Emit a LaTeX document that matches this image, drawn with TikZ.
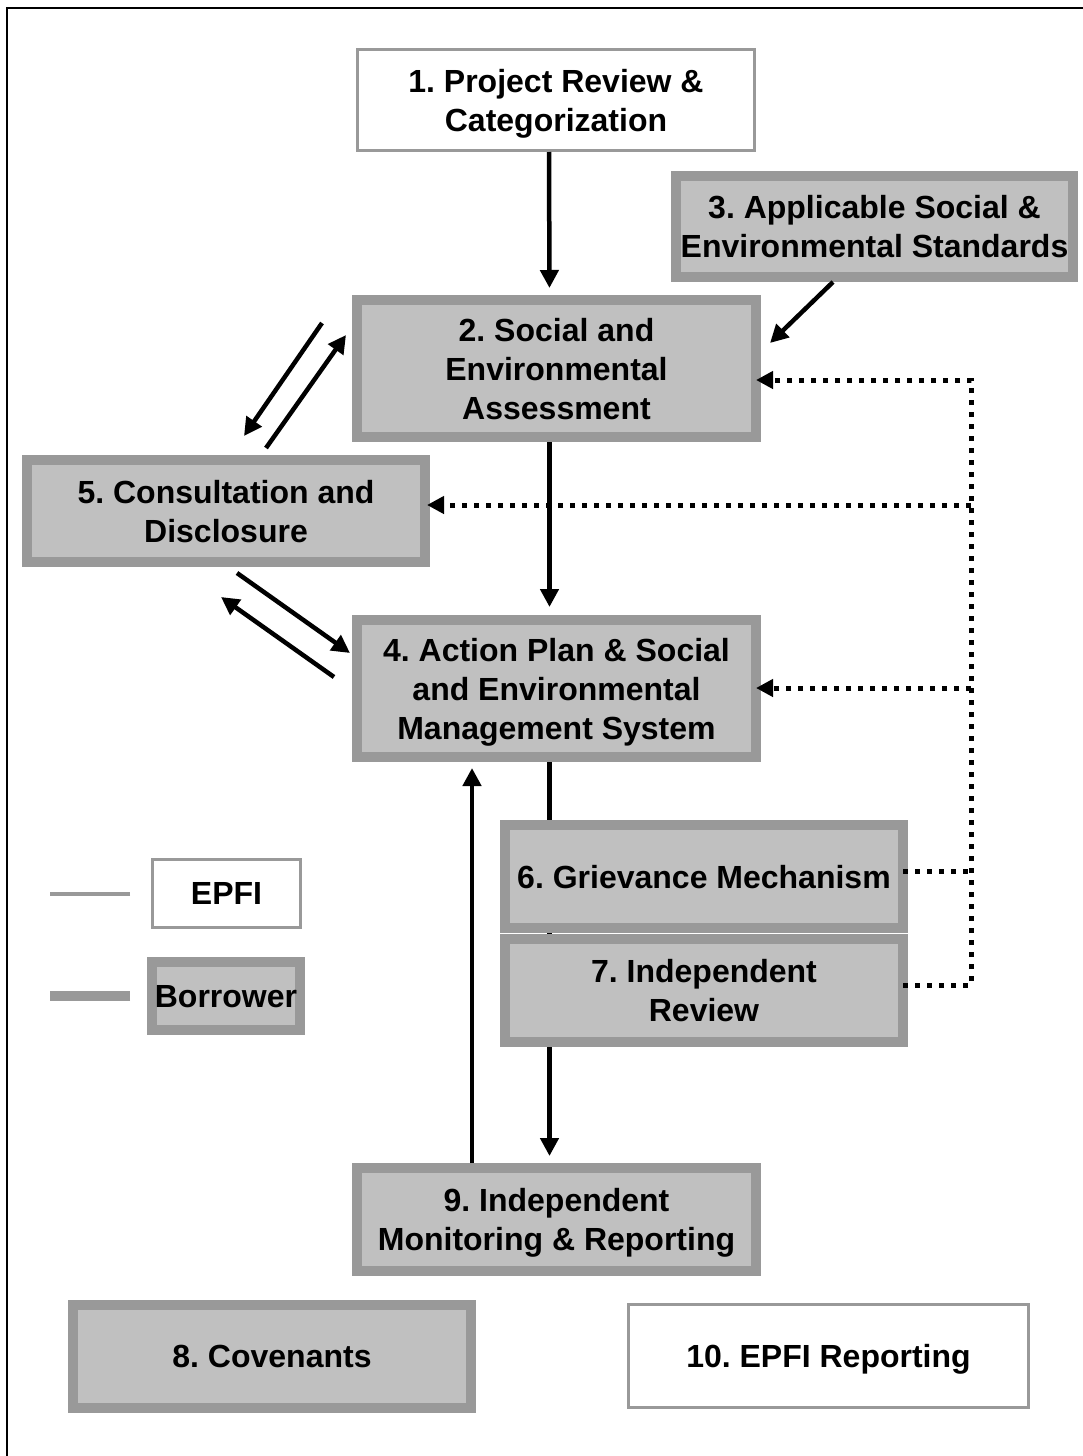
\documentclass[tikz,border=0pt]{standalone}
\usepackage{fontspec}
\setmainfont{Liberation Sans}
\frenchspacing
\usetikzlibrary{arrows.meta, backgrounds}
\definecolor{boxline}{HTML}{999999}
\definecolor{boxfill}{HTML}{C0C0C0}
\tikzset{
    base box/.style={align=center, inner sep=0pt, text depth=-3pt, font=\bfseries\fontsize{32}{39}\selectfont}, % common text look
    borrower box/.style={base box, draw=boxline, fill=boxfill, line width=10pt}, % borrower steps
    epfi box/.style={base box, draw=boxline, fill=white, line width=3pt}, % EPFI steps
    flow arrow/.style={line width=4.5pt, -{Triangle[width=18pt, length=18pt]}},
    dotted link/.style={line width=5pt, dash pattern=on 5pt off 7pt},
    dotted arrow/.style={dotted link, -{Triangle[width=17pt, length=17pt]}}
}
\begin{document}
\begin{tikzpicture}[x=1pt, y=-1pt]

    \useasboundingbox (0,0) rectangle (1083,1456);

    % process steps
    \node[epfi box, minimum width=397pt, minimum height=101pt] (review) at (556,100) {1. Project Review \&\\Categorization};
    \node[borrower box, minimum width=399pt, minimum height=137pt] (assess) at (556.5,368.5) {2. Social and\\Environmental\\Assessment};
    \node[borrower box, minimum width=397pt, minimum height=101pt] (standards) at (874.5,226.5) {3. Applicable Social \&\\Environmental Standards};
    \node[borrower box, minimum width=398pt, minimum height=102pt] (consult) at (226,511) {5. Consultation and\\Disclosure};
    \node[borrower box, minimum width=399pt, minimum height=137pt] (plan) at (556.5,688.5) {4. Action Plan \& Social\\and Environmental\\Management System};
    \node[borrower box, minimum width=398pt, minimum height=103pt] (grievance) at (704,876.5) {6. Grievance Mechanism};
    \node[borrower box, minimum width=398pt, minimum height=103pt] (indrev) at (704,990.5) {7. Independent\\Review};
    \node[borrower box, minimum width=399pt, minimum height=103pt] (monitor) at (556.5,1219.5) {9. Independent\\Monitoring \& Reporting};
    \node[borrower box, minimum width=398pt, minimum height=103pt] (covenants) at (272,1356.5) {8. Covenants};
    \node[epfi box, minimum width=400pt, minimum height=103pt] (reporting) at (828.5,1356) {10. EPFI Reporting};

    % legend
    \node[epfi box, minimum width=148pt, minimum height=68pt] (legEPFI) at (226.5,893.5) {EPFI};
    \node[borrower box, minimum width=148pt, minimum height=68pt] (legBorrower) at (226,996) {Borrower};
    \draw[boxline, line width=4pt] ([xshift=-21pt]legEPFI.west) -- ++(-80,0);
    \draw[boxline, line width=10pt] ([xshift=-17pt]legBorrower.west) -- ++(-80,0);

    % frame and the line running behind steps 6 and 7
    \begin{scope}[on background layer]
        \draw[line width=2pt] (7,1456) -- (7,8) -- (1083,8);
        \draw[flow arrow, shorten >=7pt] ([xshift=-7pt]plan.south) -- ([xshift=-7pt]monitor.north);
    \end{scope}

    % main flow
    \draw[flow arrow, shorten >=7pt] ([xshift=-7pt]review.south) -- ([xshift=-7pt]assess.north);
    \draw[flow arrow, shorten >=8pt] ([xshift=-7pt]assess.south) -- ([xshift=-7pt]plan.north);
    \draw[flow arrow, shorten >=6pt] ([xshift=-84.5pt]monitor.north) -- ([xshift=-84.5pt]plan.south);
    \coordinate (stdTip) at (770,343);
    \draw[flow arrow] ([xshift=-41.5pt]standards.south) -- (stdTip);

    % consultation loops
    \coordinate (a1) at (322,323); \coordinate (a2) at (244,436);
    \coordinate (b1) at (266,448); \coordinate (b2) at (346,335);
    \coordinate (c1) at (237,573); \coordinate (c2) at (350,653);
    \coordinate (d1) at (334,677); \coordinate (d2) at (221,597);
    \foreach \s/\e in {a1/a2, b1/b2, c1/c2, d1/d2} {\draw[flow arrow] (\s) -- (\e);}

    % feedback from grievance and review
    \coordinate (busA) at (971,380);
    \coordinate (busB) at (971,505);
    \coordinate (busC) at (971,688);
    \coordinate (busG) at (971,871);
    \coordinate (busR) at (971,985);
    \draw[dotted link] ([xshift=-5pt]grievance.east |- busG) -- (busG);
    \draw[dotted arrow, shorten >=-5pt] ([xshift=-5pt]indrev.east |- busR) -- (busR) -- (busA) -- (assess.east |- busA);
    \draw[dotted arrow, shorten >=-3pt] (busB) -- (consult.east |- busB);
    \draw[dotted arrow, shorten >=-5pt] (busC) -- (plan.east |- busC);

\end{tikzpicture}
\end{document}
